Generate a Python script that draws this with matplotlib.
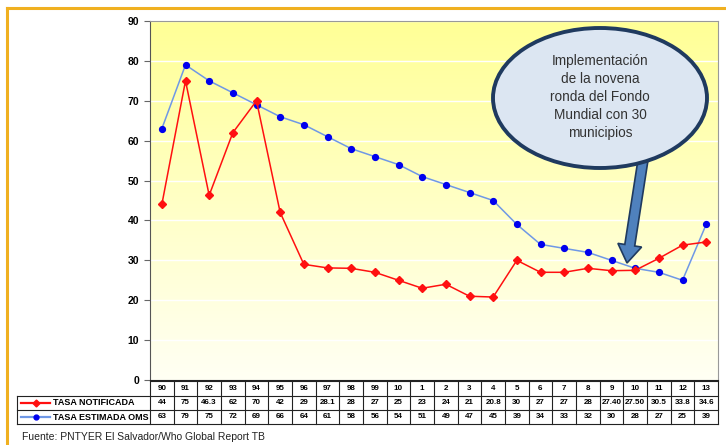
import numpy as np
import matplotlib
matplotlib.use('Agg')
from matplotlib import pyplot as plt
from matplotlib import patches, transforms
from matplotlib.lines import Line2D

plt.rcParams['font.family'] = ['Liberation Sans', 'DejaVu Sans']

#%%# data #%%#
years = ['90', '91', '92', '93', '94', '95', '96', '97', '98', '99', '10', '1',
         '2', '3', '4', '5', '6', '7', '8', '9', '10', '11', '12', '13']
notificada = [44, 75, 46.3, 62, 70, 42, 29, 28.1, 28, 27, 25, 23,
              24, 21, 20.8, 30, 27, 27, 28, 27.40, 27.50, 30.5, 33.8, 34.6]
notificadaTxt = ['44', '75', '46.3', '62', '70', '42', '29', '28.1', '28', '27', '25', '23',
                 '24', '21', '20.8', '30', '27', '27', '28', '27.40', '27.50', '30.5', '33.8', '34.6']
estimada = [63, 79, 75, 72, 69, 66, 64, 61, 58, 56, 54, 51,
            49, 47, 45, 39, 34, 33, 32, 30, 28, 27, 25, 39]
estimadaTxt = [str(v) for v in estimada]
seriesNames = ['TASA NOTIFICADA', 'TASA ESTIMADA OMS']
yTicks = [0, 10, 20, 30, 40, 50, 60, 70, 80, 90]
note = 'Implementación\nde la novena\nronda del Fondo\nMundial con 30\nmunicipios'
source = 'Fuente: PNTYER El Salvador/Who Global Report TB'

W, H = 726, 445
fig = plt.figure(figsize=(W/100, H/100), dpi=100)
fig.patch.set_facecolor('white')
# pixel coords from top-left
px = transforms.Affine2D().scale(1, -1).translate(0, H)

axL, axR, axT, axB = 150, 718, 21, 380
ax = fig.add_axes([axL/W, (H-axB)/H, (axR-axL)/W, (axB-axT)/H])
x = np.arange(len(years))
ax.set_xlim(-0.5, len(years)-0.5)
ax.set_ylim(0, 90)

# gradient background (yellow on top, almost white at bottom)
grad = np.linspace(0, 1, 256).reshape(-1, 1)
cmap = matplotlib.colors.LinearSegmentedColormap.from_list('bg', ['#fffff4', '#ffff96'])
ax.imshow(grad, aspect='auto', cmap=cmap, extent=[-0.5, len(years)-0.5, 0, 90],
          origin='lower', zorder=0)
for yv in yTicks[1:]:
    ax.axhline(yv, color='white', lw=1, zorder=1)

redC = '#ff1010'
blueC = '#0000ee'
blueLine = '#6f98e6'
ax.plot(x, estimada, color=blueLine, lw=1.1, zorder=3)
ax.plot(x, estimada, ls='none', marker='o', ms=4.2, color=blueC, zorder=4)
ax.plot(x, notificada, color=redC, lw=1.1, marker='D', ms=3.6, zorder=5)

ax.set_xticks([])
ax.set_yticks(yTicks)
ax.tick_params(axis='y', length=4, color='#666666', pad=4)
for t in ax.get_yticklabels():
    t.set_fontweight('bold'); t.set_fontsize(7.5)
for s in ['top', 'right']:
    ax.spines[s].set_color('#999999')
ax.spines['left'].set_color('#555555')
ax.spines['bottom'].set_color('#222222')

#%%# data table #%%#
tb = transforms.blended_transform_factory(ax.transData, px)
rows = [381, 395.5, 410, 424]
for r in rows:
    fig.add_artist(Line2D([17 if r != rows[0] else axL, axR], [r, r], transform=px, color='#222222', lw=0.8))
fig.add_artist(Line2D([17, 17], [rows[1], rows[3]], transform=px, color='#222222', lw=0.8))
for i in range(len(years)+1):
    fig.add_artist(Line2D([i-0.5, i-0.5], [rows[0], rows[3]], transform=tb, color='#222222', lw=0.8))
for j, rowTxt in enumerate([years, notificadaTxt, estimadaTxt]):
    yc = (rows[j]+rows[j+1])/2
    for i, s in enumerate(rowTxt):
        fig.text(i, yc, s, transform=tb, ha='center', va='center', fontsize=5.8, fontweight='bold')
# legend keys in the table
for j, (c, lc, m) in enumerate([(redC, redC, 'D'), (blueC, blueLine, 'o')]):
    yc = (rows[j+1]+rows[j+2])/2
    fig.add_artist(Line2D([21, 50], [yc, yc], transform=px, color=lc, lw=1.6))
    fig.add_artist(Line2D([35.5], [yc], transform=px, color=c, marker=m, ms=3.5))
    fig.text(53, yc, seriesNames[j], transform=px, ha='left', va='center', fontsize=6.5, fontweight='bold')

#%%# callout #%%#
arrow = patches.FancyArrow(643, 160, -16, 103, width=10, head_width=24, head_length=18,
                           length_includes_head=True, transform=px, facecolor='#4f81bd',
                           edgecolor='#1f3a5f', lw=1.2, zorder=5)
fig.add_artist(arrow)
ell = patches.Ellipse((600, 98), 214, 140, transform=px, facecolor='#dce6f2',
                      edgecolor='#1f3a5f', lw=2.8, zorder=6)
fig.add_artist(ell)
fig.text(600, 97, note, transform=px, ha='center', va='center', fontsize=9.8,
         color='#333333', linespacing=1.38, zorder=7)

#%%# frame and source #%%#
fig.add_artist(Line2D([7, W], [8, 8], transform=px, color='#f0b020', lw=2.2))
fig.add_artist(Line2D([7, 7], [8, H], transform=px, color='#f0b020', lw=2.2))
fig.text(22, 437, source, transform=px, ha='left', va='center', fontsize=7.5, color='#222222')

fig.savefig('out.png', dpi=100)
